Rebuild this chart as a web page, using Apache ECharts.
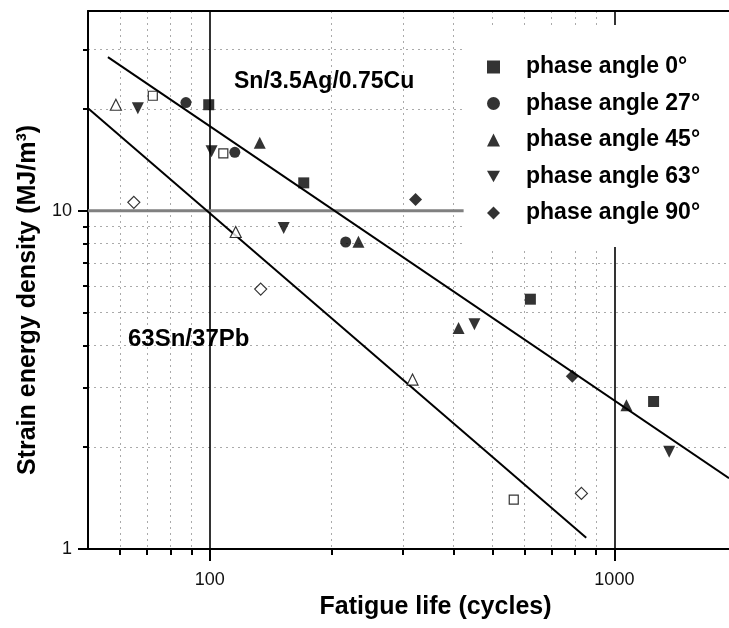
<!DOCTYPE html>
<html>
<head>
<meta charset="utf-8">
<script src="https://cdn.jsdelivr.net/npm/echarts@6/dist/echarts.min.js"></script>
<style>
html,body{margin:0;padding:0;background:#fff;}
#chart{width:729px;height:628px;}
</style>
</head>
<body>
<div id="chart"></div>
<script>
// ---- tick values ----
const xTicksMajor = [100, 1000];
const xTicksMinor = [60, 70, 80, 90, 200, 300, 400, 500, 600, 700, 800, 900];
const yTicksMajor = [1, 10];
const yTicksMinor = [2, 3, 4, 5, 6, 7, 8, 9, 20, 30];

// ---- legend names ----
const legendNames = ['phase angle 0°', 'phase angle 27°', 'phase angle 45°', 'phase angle 63°', 'phase angle 90°'];

// ---- Sn/3.5Ag/0.75Cu (filled symbols): [fatigue life, strain energy density] ----
const pa0  = [[99.4, 20.6], [170.7, 12.1], [620, 5.48], [1250, 2.73]];
const pa27 = [[87.3, 20.9], [115.3, 14.9], [216.7, 8.09]];
const pa45 = [[132.9, 15.9], [233, 8.1], [412, 4.5], [1071, 2.66]];
const pa63 = [[66.4, 20.1], [101, 15.0], [152.3, 8.9], [451, 4.62], [1366, 1.94]];
const pa90 = [[322.6, 10.8], [787, 3.24]];

// ---- 63Sn/37Pb (open symbols) ----
const pbSquare   = [[72.3, 21.9], [108, 14.8], [564, 1.40]];
const pbTriangle = [[58.6, 20.6], [115.9, 8.66], [317, 3.17]];
const pbDiamond  = [[64.9, 10.6], [133.6, 5.87], [829, 1.46]];

// ---- fit lines ----
const fitSnAgCu = [[56, 28.5], [1920, 1.62]];
const fitSnPb   = [[50, 20.1], [852, 1.08]];
const ref10     = [[50, 10], [424, 10]];

const FONT = '"Liberation Sans", Arial, Helvetica, sans-serif';
const downTri = 'path://M0,0 L10,0 L5,9 Z';

function filled(name, data, symbol, size) {
  return { name: name, type: 'scatter', data: data, symbol: symbol, symbolSize: size,
    itemStyle: { color: '#000' }, z: 5 };
}
function open(name, data, symbol, size) {
  return { name: name, type: 'scatter', data: data, symbol: symbol, symbolSize: size,
    itemStyle: { color: '#fff', borderColor: '#000', borderWidth: 1.2 }, z: 5 };
}

const chart = echarts.init(document.getElementById('chart'), null, { renderer: 'canvas' });
const option = {
  backgroundColor: '#fff',
  animation: false,
  textStyle: { fontFamily: FONT },
  grid: { left: 88, right: 0, top: 11, bottom: 79, containLabel: false },
  legend: {
    data: legendNames,
    orient: 'vertical',
    left: 465, top: 25,
    padding: [30, 40, 22, 22],
    backgroundColor: '#fff',
    itemWidth: 13, itemHeight: 13,
    itemGap: 12.5,
    textStyle: { fontFamily: FONT, fontSize: 23, fontWeight: 'bold', color: '#000', lineHeight: 24, padding: [0, 0, 0, 21] }
  },
  xAxis: [
    {
      type: 'log', min: 50, max: 1920, position: 'bottom',
      name: 'Fatigue life (cycles)', nameLocation: 'middle', nameGap: 46,
      nameTextStyle: { fontFamily: FONT, fontSize: 25, fontWeight: 'bold', color: '#000', padding: [0, 0, 0, 54] },
      axisLine: { show: true, lineStyle: { color: '#000', width: 2 } },
      axisTick: { show: true, customValues: xTicksMajor, length: 12, lineStyle: { color: '#000', width: 2 } },
      axisLabel: { show: true, customValues: xTicksMajor, margin: 22, fontSize: 18, color: '#111', fontFamily: FONT,
        formatter: function (v) { return String(Math.round(v)); } },
      splitLine: { show: true, lineStyle: { color: '#000', width: 1.6 } },
      minorTick: { show: false }, minorSplitLine: { show: false }
    },
    {
      type: 'log', min: 50, max: 1920, position: 'bottom', offset: 0,
      axisLine: { show: false },
      axisTick: { show: true, customValues: xTicksMinor, length: 6, lineStyle: { color: '#000', width: 2 } },
      axisLabel: { show: false, customValues: xTicksMinor },
      splitLine: { show: true, lineStyle: { color: '#aaa', width: 1, type: [2, 4] } }
    },
    {
      type: 'log', min: 50, max: 1920, position: 'top',
      axisLine: { show: true, lineStyle: { color: '#000', width: 2 } },
      axisTick: { show: false }, axisLabel: { show: false }, splitLine: { show: false }
    }
  ],
  yAxis: [
    {
      type: 'log', min: 1, max: 39, position: 'left',
      name: 'Strain energy density (MJ/m³)', nameLocation: 'middle', nameGap: 44,
      nameTextStyle: { fontFamily: FONT, fontSize: 25, fontWeight: 'bold', color: '#000', padding: [0, 40, 0, 0] },
      axisLine: { show: true, lineStyle: { color: '#000', width: 2 } },
      axisTick: { show: true, customValues: yTicksMajor, length: 10, lineStyle: { color: '#000', width: 2 } },
      axisLabel: { show: true, customValues: yTicksMajor, margin: 16, fontSize: 18, color: '#111', fontFamily: FONT,
        formatter: function (v) { return String(Math.round(v)); } },
      splitLine: { show: false }
    },
    {
      type: 'log', min: 1, max: 39, position: 'left', offset: 0,
      axisLine: { show: false },
      axisTick: { show: true, customValues: yTicksMinor, length: 5, lineStyle: { color: '#000', width: 2 } },
      axisLabel: { show: false, customValues: yTicksMinor },
      splitLine: { show: true, lineStyle: { color: '#aaa', width: 1, type: [2, 4] } }
    }
  ],
  graphic: [
    { type: 'text', left: 234, top: 70, z: 10,
      style: { text: 'Sn/3.5Ag/0.75Cu', font: 'bold 23px ' + FONT, fill: '#000' } },
    { type: 'text', left: 128, top: 327, z: 10,
      style: { text: '63Sn/37Pb', font: 'bold 24px ' + FONT, fill: '#000' } }
  ],
  series: [
    { name: 'ref10', type: 'line', data: ref10, symbol: 'none', silent: true,
      lineStyle: { color: '#808080', width: 3 }, z: 1 },
    { name: 'fitSnAgCu', type: 'line', data: fitSnAgCu, symbol: 'none', silent: true,
      lineStyle: { color: '#000', width: 2 }, z: 3 },
    { name: 'fitSnPb', type: 'line', data: fitSnPb, symbol: 'none', silent: true,
      lineStyle: { color: '#000', width: 2 }, z: 3 },
    filled(legendNames[0], pa0, 'rect', 11),
    filled(legendNames[1], pa27, 'circle', 11),
    filled(legendNames[2], pa45, 'triangle', 12),
    filled(legendNames[3], pa63, downTri, 12),
    filled(legendNames[4], pa90, 'diamond', 13),
    open('63Sn/37Pb square', pbSquare, 'rect', 9),
    open('63Sn/37Pb triangle', pbTriangle, 'triangle', 11),
    open('63Sn/37Pb diamond', pbDiamond, 'diamond', 12)
  ]
};
chart.setOption(option);
</script>
</body>
</html>
